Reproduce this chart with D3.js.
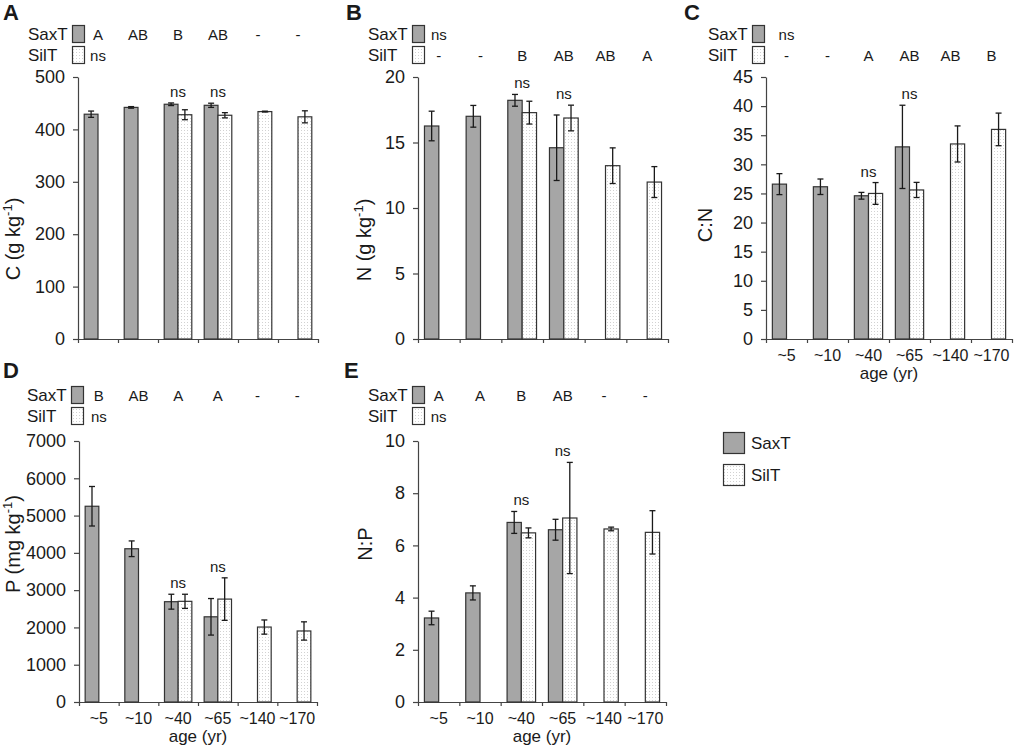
<!DOCTYPE html>
<html>
<head>
<meta charset="utf-8">
<script src="https://cdn.jsdelivr.net/npm/d3@7"></script>
<style>
body { margin: 0; background: #fff; }
svg text { font-family: "Liberation Sans", Arial, sans-serif; fill: #1a1a1a; }
</style>
</head>
<body>
<svg width="1017" height="746"></svg>
<script>
// stand age classes
const ages = ["~5", "~10", "~40", "~65", "~140", "~170"]
const series = ["SaxT", "SilT"]

// A: C (g kg-1)
const saxC = [429, 442, 448, 446, null, null]
const saxCErr = [6, 1.5, 2.5, 4, null, null]
const silC = [null, null, 428, 427, 434, 424]
const silCErr = [null, null, 9.5, 5, 0.8, 11.5]
const saxCSig = ["A", "AB", "B", "AB", "-", "-"]
const silCSig = ["ns"]

// B: N (g kg-1)
const saxN = [16.26, 17.0, 18.22, 14.6, null, null]
const saxNErr = [1.13, 0.83, 0.45, 2.5, null, null]
const silN = [null, null, 17.28, 16.87, 13.23, 11.98]
const silNErr = [null, null, 0.87, 0.98, 1.36, 1.18]
const saxNSig = ["ns"]
const silNSig = ["-", "-", "B", "AB", "AB", "A"]

// C: C:N
const saxCN = [26.6, 26.15, 24.6, 33.0, null, null]
const saxCNErr = [1.8, 1.33, 0.58, 7.15, null, null]
const silCN = [null, null, 25.0, 25.6, 33.5, 36.0]
const silCNErr = [null, null, 1.87, 1.3, 3.1, 2.8]
const saxCNSig = ["ns"]
const silCNSig = ["-", "-", "A", "AB", "AB", "B"]

// D: P (mg kg-1)
const saxP = [5250, 4110, 2690, 2285, null, null]
const saxPErr = [530, 210, 200, 490, null, null]
const silP = [null, null, 2700, 2760, 2010, 1905]
const silPErr = [null, null, 190, 570, 190, 245]
const saxPSig = ["B", "AB", "A", "A", "-", "-"]
const silPSig = ["ns"]

// E: N:P
const saxNP = [3.22, 4.18, 6.88, 6.6, null, null]
const saxNPErr = [0.26, 0.27, 0.42, 0.4, null, null]
const silNP = [null, null, 6.48, 7.05, 6.63, 6.5]
const silNPErr = [null, null, 0.19, 2.13, 0.07, 0.83]
const saxNPSig = ["A", "A", "B", "AB", "-", "-"]
const silNPSig = ["ns"]

// SaxT vs SilT within an age class
const pairSig = ["", "", "ns", "ns", "", ""]

const yTicksC = [0, 100, 200, 300, 400, 500]
const yTicksN = [0, 5, 10, 15, 20]
const yTicksCN = [0, 5, 10, 15, 20, 25, 30, 35, 40, 45]
const yTicksP = [0, 1000, 2000, 3000, 4000, 5000, 6000, 7000]
const yTicksNP = [0, 2, 4, 6, 8, 10]

const panels = [
  {letter: "A", title: "C (g kg", sup: "-1", close: ")", sax: saxC, saxErr: saxCErr, sil: silC, silErr: silCErr,
   saxSig: saxCSig, silSig: silCSig, ticks: yTicksC,
   x0: 78, x1: 318, yT: 77, yB: 339, lx: 3, ly: 20, legX: 28, legY: 25, tx: 20, ty: 239, showX: false},
  {letter: "B", title: "N (g kg", sup: "-1", close: ")", sax: saxN, saxErr: saxNErr, sil: silN, silErr: silNErr,
   saxSig: saxNSig, silSig: silNSig, ticks: yTicksN,
   x0: 418, x1: 668, yT: 77, yB: 339, lx: 346, ly: 20, legX: 368, legY: 25, tx: 371, ty: 240, showX: false},
  {letter: "C", title: "C:N", sup: "", close: "", sax: saxCN, saxErr: saxCNErr, sil: silCN, silErr: silCNErr,
   saxSig: saxCNSig, silSig: silCNSig, ticks: yTicksCN,
   x0: 766, x1: 1012, yT: 77, yB: 339, lx: 684, ly: 20, legX: 708, legY: 25, tx: 712, ty: 225, showX: true},
  {letter: "D", title: "P (mg kg", sup: "-1", close: ")", sax: saxP, saxErr: saxPErr, sil: silP, silErr: silPErr,
   saxSig: saxPSig, silSig: silPSig, ticks: yTicksP,
   x0: 79, x1: 317, yT: 441, yB: 702, lx: 3, ly: 378, legX: 27, legY: 386, tx: 20, ty: 544, showX: true},
  {letter: "E", title: "N:P", sup: "", close: "", sax: saxNP, saxErr: saxNPErr, sil: silNP, silErr: silNPErr,
   saxSig: saxNPSig, silSig: silNPSig, ticks: yTicksNP,
   x0: 418, x1: 666, yT: 441, yB: 702, lx: 344, ly: 378, legX: 368, legY: 386, tx: 372, ty: 544, showX: true}
]

const svg = d3.select("svg")

// dotted fill used for SilT
const pat = svg.append("defs").append("pattern")
  .attr("id", "dots")
  .attr("width", 3)
  .attr("height", 3)
  .attr("patternUnits", "userSpaceOnUse")
pat.append("rect").attr("width", 3).attr("height", 3).attr("fill", "#fff")
pat.append("rect").attr("x", 1).attr("y", 1).attr("width", 1).attr("height", 1).attr("fill", "#d2d2d2")

const fills = {SaxT: "#a6a6a6", SilT: "url(#dots)"}
const edge = "#333"

panels.forEach(p => {
  const g = svg.append("g")

  const x = d3.scaleBand().domain(ages).range([p.x0, p.x1]).padding(0)
  const xs = d3.scaleBand().domain(series).range([0, x.bandwidth()]).paddingInner(0).paddingOuter(0.45)
  const y = d3.scaleLinear().domain([0, d3.max(p.ticks)]).range([p.yB, p.yT])
  const cx = a => x(a) + x.bandwidth() / 2

  const rows = []
  ages.forEach((a, i) => {
    if (p.sax[i] != null) rows.push({age: a, s: "SaxT", v: p.sax[i], e: p.saxErr[i]})
    if (p.sil[i] != null) rows.push({age: a, s: "SilT", v: p.sil[i], e: p.silErr[i]})
  })

  // panel letter
  g.append("text")
    .attr("x", p.lx)
    .attr("y", p.ly)
    .style("font-size", "22px")
    .style("font-weight", "bold")
    .text(p.letter)

  // little legend + significance letters above the plot
  series.forEach((s, k) => {
    const top = p.legY + k * 21
    g.append("text")
      .attr("x", p.legX)
      .attr("y", top + 15)
      .style("font-size", "17px")
      .text(s)
    g.append("rect")
      .attr("x", p.legX + 44.5)
      .attr("y", top + 0.5)
      .attr("width", 12)
      .attr("height", 17)
      .attr("fill", fills[s])
      .attr("stroke", edge)
      .attr("stroke-width", 1.2)
    const sig = k == 0 ? p.saxSig : p.silSig
    g.selectAll("text.sig" + k)
      .data(sig)
      .enter().append("text")
      .attr("class", "sig" + k)
      .attr("x", (d, i) => cx(ages[i]))
      .attr("y", top + 15)
      .style("font-size", "15px")
      .style("text-anchor", "middle")
      .text(d => d)
  })

  // axes
  const xEdges = d3.scaleLinear().domain([0, ages.length]).range([p.x0, p.x1])
  const xAxis = g.append("g")
    .attr("transform", `translate(0,${p.yB})`)
    .call(d3.axisBottom(xEdges).tickValues(d3.range(ages.length + 1)).tickFormat("").tickSize(4).tickSizeOuter(0))
  xAxis.selectAll("path, line").attr("stroke", "#444").attr("stroke-width", 1.2)

  const yAxis = g.append("g")
    .attr("transform", `translate(${p.x0},0)`)
    .call(d3.axisLeft(y).tickValues(p.ticks).tickFormat(d3.format("d")).tickSize(5).tickSizeOuter(0).tickPadding(8))
  yAxis.selectAll("path, line").attr("stroke", "#444").attr("stroke-width", 1.2)
  yAxis.selectAll("text")
    .style("font-size", "18px")
    .style("font-family", "'Liberation Sans', Arial, sans-serif")
    .attr("fill", "#1a1a1a")

  // y title
  const title = g.append("text")
    .attr("transform", `translate(${p.tx},${p.ty}) rotate(-90)`)
    .style("font-size", "20px")
    .style("text-anchor", "middle")
  title.append("tspan").text(p.title)
  if (p.sup) {
    title.append("tspan").attr("dy", -8).style("font-size", "13px").text(p.sup)
    title.append("tspan").attr("dy", 8).text(p.close)
  }

  if (p.showX) {
    g.selectAll("text.age")
      .data(ages)
      .enter().append("text")
      .attr("class", "age")
      .attr("x", d => cx(d))
      .attr("y", p.yB + 22)
      .style("font-size", "16px")
      .style("text-anchor", "middle")
      .text(d => d)
    g.append("text")
      .attr("x", (p.x0 + p.x1) / 2)
      .attr("y", p.yB + 40)
      .style("font-size", "17px")
      .style("text-anchor", "middle")
      .text("age (yr)")
  }

  // bars
  g.selectAll("rect.bar")
    .data(rows)
    .enter().append("rect")
    .attr("class", "bar")
    .attr("x", d => x(d.age) + xs(d.s))
    .attr("y", d => y(d.v))
    .attr("width", xs.bandwidth())
    .attr("height", d => y(0) - y(d.v))
    .attr("fill", d => fills[d.s])
    .attr("stroke", edge)
    .attr("stroke-width", 1.2)

  // error bars
  const err = g.selectAll("g.err")
    .data(rows)
    .enter().append("g")
    .attr("class", "err")
    .attr("stroke", "#1a1a1a")
    .attr("stroke-width", 1.3)
  err.append("line")
    .attr("x1", d => x(d.age) + xs(d.s) + xs.bandwidth() / 2)
    .attr("x2", d => x(d.age) + xs(d.s) + xs.bandwidth() / 2)
    .attr("y1", d => y(d.v + d.e))
    .attr("y2", d => y(d.v - d.e))
  err.selectAll("line.cap")
    .data(d => [{d: d, v: d.v + d.e}, {d: d, v: d.v - d.e}])
    .enter().append("line")
    .attr("class", "cap")
    .attr("x1", c => x(c.d.age) + xs(c.d.s) + xs.bandwidth() / 2 - 3)
    .attr("x2", c => x(c.d.age) + xs(c.d.s) + xs.bandwidth() / 2 + 3)
    .attr("y1", c => y(c.v))
    .attr("y2", c => y(c.v))

  // SaxT vs SilT comparison within an age class
  g.selectAll("text.pair")
    .data(pairSig)
    .enter().append("text")
    .attr("class", "pair")
    .attr("x", (d, i) => cx(ages[i]))
    .attr("y", (d, i) => {
      const hi = d3.max(rows.filter(r => r.age == ages[i]), r => r.v + r.e) || 0
      return y(hi) - 6
    })
    .style("font-size", "15px")
    .style("text-anchor", "middle")
    .text(d => d)
})

// shared legend
const legend = svg.append("g").attr("transform", "translate(723,432)")
series.forEach((s, k) => {
  legend.append("rect")
    .attr("x", 0.5)
    .attr("y", k * 32 + 0.5)
    .attr("width", 21)
    .attr("height", 21)
    .attr("fill", fills[s])
    .attr("stroke", edge)
    .attr("stroke-width", 1.2)
  legend.append("text")
    .attr("x", 28)
    .attr("y", k * 32 + 17)
    .style("font-size", "17px")
    .text(s)
})
</script>
</body>
</html>
